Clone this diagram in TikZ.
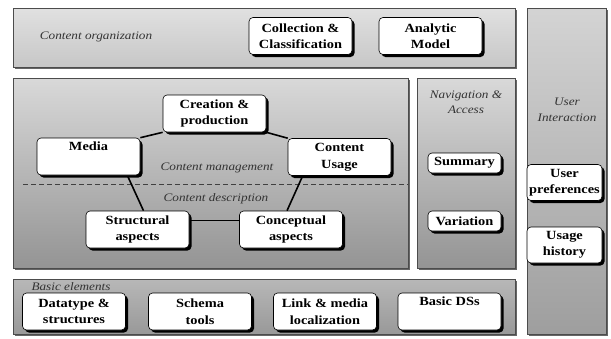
\documentclass[tikz,border=0pt]{standalone}
\usepackage{fontspec}
\setmainfont[FakeStretch=1.15]{Liberation Serif}
\usetikzlibrary{shadows}
\pgfdeclarelayer{bg}
\pgfdeclarelayer{edges}
\pgfsetlayers{bg,edges,main}
\tikzset{
  box/.style={draw=black, line width=0.6pt, fill=white, rounded corners=4pt,
    align=center, inner sep=1pt, minimum width=103pt, minimum height=37pt,
    font=\bfseries\fontsize{12.5}{16.5}\selectfont,
    drop shadow={shadow xshift=2.5pt, shadow yshift=-2.5pt, fill=black, opacity=1}},
  smallbox/.style={box, minimum width=73pt, minimum height=20pt},
  userbox/.style={box, minimum width=75pt, minimum height=36pt},
  lbl/.style={font=\itshape\fontsize{11.5}{15.5}\selectfont, text=black!80, align=center},
  panel/.style={draw=black!70, line width=0.6pt},
  link/.style={line width=1.6pt}
}
\begin{document}
\begin{tikzpicture}[x=1pt,y=-1pt]
\useasboundingbox (0,0) rectangle (611,338);
\begin{pgfonlayer}{bg}
\fill[black!60] (15,10) rectangle (517,69);
\shade[panel, top color=black!12, bottom color=black!22] (13,8) rectangle (515,67);
\fill[black!60] (15,80) rectangle (410,270);
\shade[panel, top color=black!15, bottom color=black!42] (13,78) rectangle (408,268);
\fill[black!60] (419,80) rectangle (517,270);
\shade[panel, top color=black!15, bottom color=black!42] (417,78) rectangle (515,268);
\fill[black!60] (15,281) rectangle (517,336);
\shade[panel, top color=black!28, bottom color=black!40] (13,279) rectangle (515,334);
\fill[black!60] (529,10) rectangle (608,336);
\shade[panel, top color=black!17, bottom color=black!38] (527,8) rectangle (606,334);
\draw[black!75, dashed, dash pattern=on 5pt off 3pt, line width=0.6pt] (23,184) -- (408,184);
\end{pgfonlayer}
% content organization
\node[lbl] (orglbl) at (96,37){Content organization};
\node[box] (collection) at (300.5,36){Collection \&\\Classification};
\node[box] (analytic) at (430.5,36){Analytic\\Model};
% content management / description
\node[box] (creation) at (214.5,113.5){Creation \&\\production};
\node[box] (media) at (88.5,156.5){Media\\\strut};
\node[box] (usage) at (339.5,157){Content\\Usage};
\node[box] (structural) at (137.5,229.5){Structural\\aspects};
\node[box] (conceptual) at (291,229.5){Conceptual\\aspects};
\node[lbl] (mgmtlbl) at (217,168){Content management};
\node[lbl] (desclbl) at (216,199){Content description};
\begin{pgfonlayer}{edges}
\draw[link](creation.south west) -- (media.north east);
\draw[link](creation.south east) -- (usage.north west);
\draw[link]([xshift=-13pt]media.south east) -- ([xshift=6pt]structural.north);
\draw[link]([xshift=15pt]usage.south west) -- ([xshift=-4pt]conceptual.north);
\draw[link]([yshift=9pt]structural.east) -- ([yshift=9pt]conceptual.west);
\end{pgfonlayer}
% navigation & access
\node[lbl] (navlbl) at (466,102){Navigation \&\\Access};
\node[smallbox] (summary) at (464.5,163){Summary};
\node[smallbox] (variation) at (464.5,221){Variation};
% user interaction
\node[lbl] (userlbl) at (567,110){User\\Interaction};
\node[userbox] (preferences) at (564.5,182.5){User\\preferences};
\node[userbox] (history) at (564.5,245){Usage\\history};
% basic elements
\node[lbl] (basiclbl) at (71,287){Basic elements};
\node[box] (datatype) at (74,311.5){Datatype \&\\structures};
\node[box] (schema) at (200,311.5){Schema\\tools};
\node[box] (localization) at (325,311.5){Link \& media\\localization};
\node[box] (basicds) at (449.5,311.5){Basic DSs\\\strut};
\end{tikzpicture}
\end{document}
